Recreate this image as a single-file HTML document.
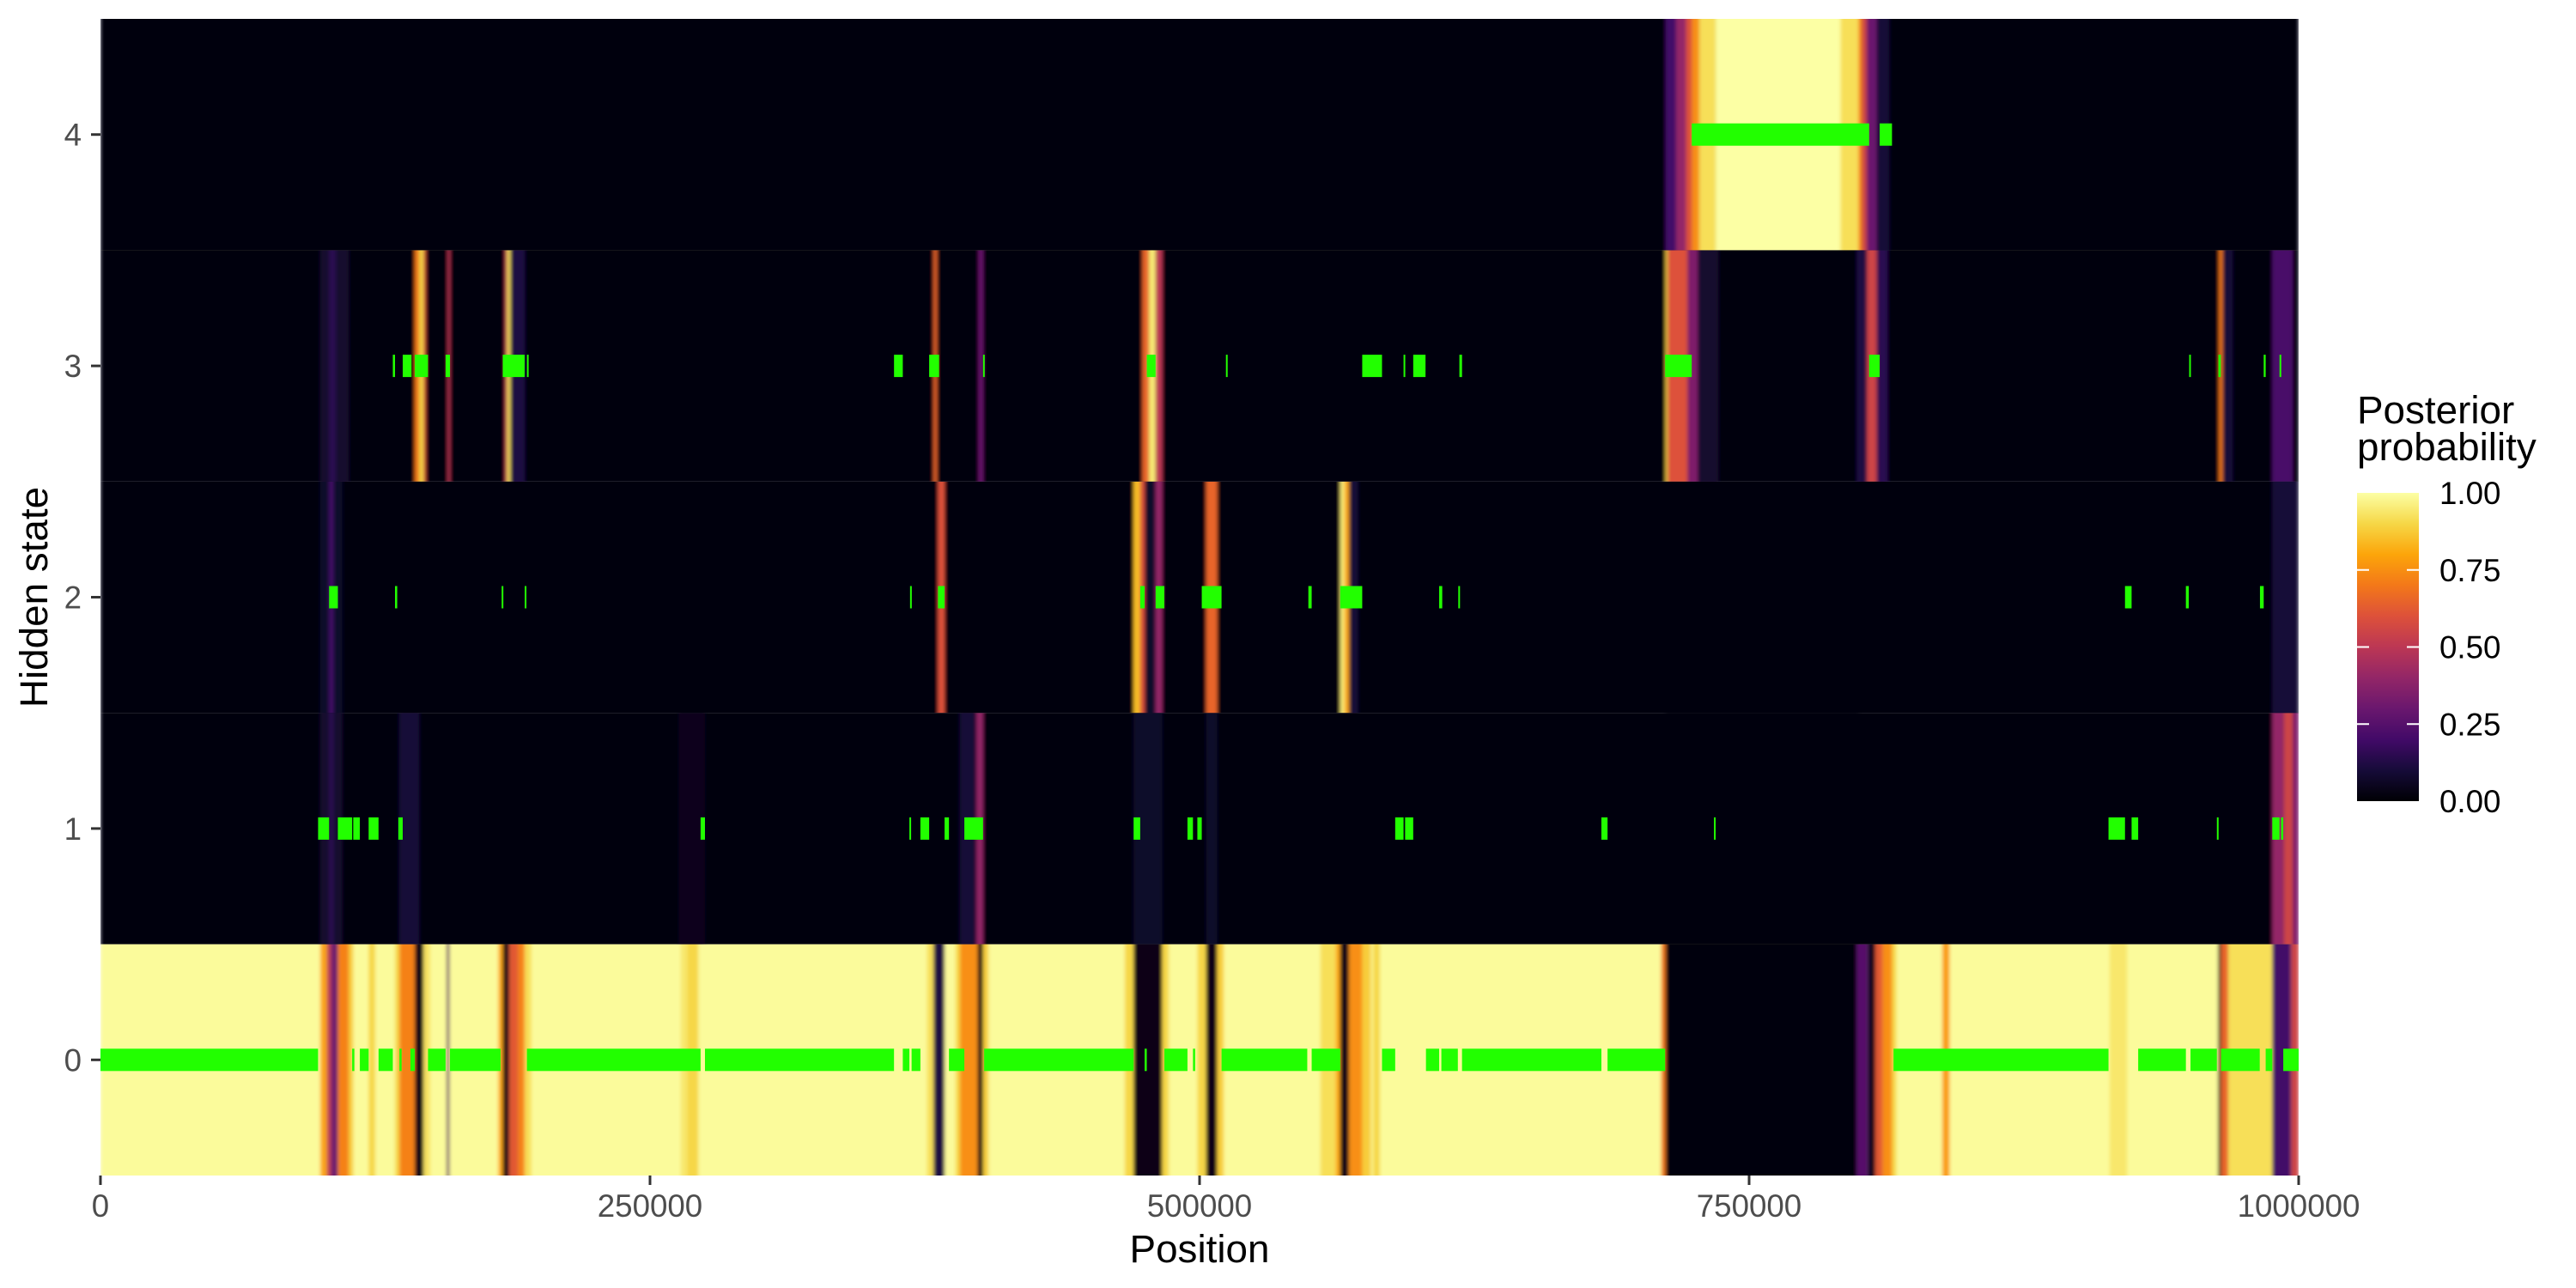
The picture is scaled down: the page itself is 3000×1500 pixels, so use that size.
<!DOCTYPE html>
<html><head><meta charset="utf-8"><style>
html,body{margin:0;padding:0;background:#fff;}
svg{display:block;font-family:"Liberation Sans",Arial,sans-serif;}
</style></head><body>
<svg id="chart" width="3000" height="1500" viewBox="0 0 3000 1500" xmlns="http://www.w3.org/2000/svg">
<defs>
<filter id="hblur" x="0" y="0" width="1" height="1" filterUnits="objectBoundingBox"><feGaussianBlur stdDeviation="2 0" edgeMode="duplicate"/></filter>
</defs>
<rect x="0" y="0" width="3000" height="1500" fill="#ffffff"/>
<g id="heat"></g>
<g id="path"></g>
<g id="axes"></g>
<g id="legend"></g>
</svg>
<script>
// ---- data (positions in kb, probabilities 0..1) ----
const states = [0, 1, 2, 3, 4];
const baseProb = [0.99, 0.02, 0.02, 0.02, 0.006];
const xTicks = [0, 250000, 500000, 750000, 1000000];
const xTickLabels = ["0", "250000", "500000", "750000", "1000000"];
const legendTicks = [0, 0.25, 0.5, 0.75, 1];
const legendLabels = ["0.00", "0.25", "0.50", "0.75", "1.00"];
const probState0 = [[100,103,0.8],[103,105,0.5],[105,108,0.3],[108,113,0.72],[113,115,0.88],[122,125,0.9],[134,136,0.9],[136,143,0.72],[143,147,0.03],[147,150,0.93],[157.5,158.7,0.25],[181,183,0.8],[183,186,0.03],[186,190,0.62],[190,193,0.72],[193,196,0.92],[264,267,0.94],[267,272,0.9],[376,379,0.92],[379,384,0.12],[389,391,0.9],[391,399,0.75],[399,401.5,0.03],[401.5,404,0.88],[466,470,0.9],[470,483,0.03],[483,486,0.9],[499,503,0.9],[503,508,0.03],[508,511,0.88],[555,562,0.92],[562,564,0.8],[564,568,0.03],[568,574,0.75],[574,578,0.88],[579,582,0.9],[710,712,0.7],[712,799,0.02],[799,804,0.25],[804,807.4,0.05],[807.4,810.7,0.62],[810.7,815,0.75],[815,817,0.9],[837.9,841.2,0.78],[914,922,0.94],[963.4,964.7,0.03],[964.7,968,0.65],[968,988,0.92],[988,996.6,0.2],[996.6,1000,0.55]];
const probState1 = [[100,110,0.08],[104,106,0.15],[136,145,0.1],[263,275,0.05],[391,398,0.1],[398.5,401.5,0.4],[470,483,0.07],[503,508,0.07],[712,800,0.015],[988,993.3,0.4],[993.3,997.3,0.55],[997.3,1000,0.35]];
const probState2 = [[100,110,0.07],[104,106,0.2],[381,384,0.6],[470,473,0.85],[473,475,0.6],[475,480,0.07],[480,483,0.4],[503,508,0.65],[564,566,0.95],[566,568,0.8],[568,572,0.1],[988,1000,0.1]];
const probState3 = [[100,113,0.08],[104,107,0.15],[143,145,0.7],[145,147,0.9],[147,148,0.6],[158,159,0.5],[184,185,0.5],[185,186.5,0.92],[186.5,193,0.12],[379,380.5,0.65],[399.5,401.5,0.3],[474,477,0.65],[477,480,0.95],[480,483,0.5],[712,713,0.9],[713,722,0.6],[722,726.6,0.35],[726.6,736,0.08],[799,803.6,0.12],[803.6,808,0.55],[808,813,0.15],[963.8,965.4,0.7],[965.4,970,0.1],[988,997.3,0.22]];
const probState4 = [[712,716.8,0.2],[716.8,721.3,0.4],[721.3,724,0.6],[724,727.3,0.75],[727.3,734.8,0.92],[734.8,791.6,1.0],[791.6,799.8,0.92],[799.8,801.5,0.72],[801.5,803.6,0.55],[803.6,808,0.3],[808,813.7,0.1]];
const pathState0 = [[0,99],[114.5,115.5],[118,122],[126.5,133],[136,137],[141,143],[149,157],[159,182],[194,273],[275,361],[365,368],[369,373],[386,393],[402,470],[475,476],[484,494.5],[497,498],[510,549],[551,564],[583,589],[603,609],[610,617.5],[619.4,682.8],[685.6,711.8],[815.7,913.5],[927,948.7],[950.8,962.8],[964.7,982.3],[985,988],[993,1000]];
const pathState1 = [[99,104],[108,114.5],[115,118],[122,126.5],[135.5,136],[136.3,137.5],[273,275],[368,368.5],[373,377],[384,386],[393,401.5],[470,473],[494.5,497],[499,501],[589,592.8],[593.5,597.2],[682.8,685.6],[734,734.3],[913.5,921],[924,927],[962.8,963.4],[988,991.3],[992,993]];
const pathState2 = [[104,108],[134,135],[182.5,183],[193,193.5],[368.3,368.8],[381,384],[473,475],[480,484],[501,510],[549.5,551],[564,574],[609,610.4],[617.7,618.2],[921,924],[948.7,950],[982.4,984.1]];
const pathState3 = [[133,134],[137.5,141.5],[143,149],[157,159],[183,193],[194,194.5],[361,365],[377,381.5],[401.5,402],[476,480],[512,512.3],[574,583],[592.8,593.5],[597.2,602.8],[618.2,619.4],[711.8,723.9],[804.6,809.4],[950.2,950.8],[963.5,964.6],[984.1,985],[991.3,992]];
const pathState4 = [[723.9,804.6],[809.4,815]];

const probs = [probState0, probState1, probState2, probState3, probState4];
const paths = [pathState0, pathState1, pathState2, pathState3, pathState4];

// ---- scales ----
const X0 = 117, X1 = 2677, Y0 = 22, Y1 = 1369;
const rowH = (Y1 - Y0) / 5;
function xs(kb) { return X0 + kb / 1000 * (X1 - X0); }
function xsBp(bp) { return X0 + bp / 1e6 * (X1 - X0); }
function rowTop(s) { return Y0 + (4 - s) * rowH; }
function rowMid(s) { return rowTop(s) + rowH / 2; }
const infernoStops = ["#000004","#160b39","#420a68","#6a176e","#932667","#bc3754","#dd513a","#f37819","#fca50a","#f6d746","#fcffa4"];
function hex2rgb(h){return [parseInt(h.substr(1,2),16),parseInt(h.substr(3,2),16),parseInt(h.substr(5,2),16)];}
function inferno(v) {
  v = Math.max(0, Math.min(1, v));
  const t = v * 10, i = Math.min(9, Math.floor(t)), f = t - i;
  const a = hex2rgb(infernoStops[i]), b = hex2rgb(infernoStops[i + 1]);
  return "rgb(" + a.map((c, k) => Math.round(c + (b[k] - c) * f)).join(",") + ")";
}
const NS = "http://www.w3.org/2000/svg";
function mk(tag, attrs, parent) {
  const el = document.createElementNS(NS, tag);
  for (const k in attrs) el.setAttribute(k, attrs[k]);
  parent.appendChild(el);
  return el;
}

// ---- heatmap ----
const heat = document.getElementById('heat');
states.forEach(s => {
  const rowG = mk('g', {filter: "url(#hblur)"}, heat);
  
  
  const bg = mk('rect', {x: X0, y: rowTop(s), width: X1 - X0, height: rowH, fill: inferno(baseProb[s])}, rowG);
  
  
  probs[s].forEach(d => {
    const r = mk('rect', {x: xs(d[0]), y: rowTop(s), width: Math.max(1, xs(d[1]) - xs(d[0])), height: rowH, fill: inferno(d[2])}, rowG);
    
    
  });
});

// ---- state path marks ----
const pathG = document.getElementById('path');
states.forEach(s => {
  paths[s].forEach(d => {
    const r = mk('rect', {x: xs(d[0]), y: rowMid(s) - 13, width: Math.max(2, xs(d[1]) - xs(d[0])), height: 26, fill: "#22ff00"}, pathG);
    
    
  });
});

// ---- axes ----
const axes = document.getElementById('axes');
states.forEach(s => {
  const t = mk('line', {x1: 106, x2: X0, y1: rowMid(s), y2: rowMid(s), stroke: "#333", "stroke-width": 3}, axes);
  
  
  const l = mk('text', {x: 95, y: rowMid(s) + 13, "text-anchor": "end", "font-size": 36.7, fill: "#4d4d4d"}, axes);
  l.textContent = String(s);
  
  
});
xTicks.forEach((v, i) => {
  const t = mk('line', {x1: xsBp(v), x2: xsBp(v), y1: Y1, y2: Y1 + 11, stroke: "#333", "stroke-width": 3}, axes);
  
  
  const l = mk('text', {x: xsBp(v), y: 1417, "text-anchor": "middle", "font-size": 36.7, fill: "#4d4d4d"}, axes);
  l.textContent = xTickLabels[i];
  
  
});
const xt = mk('text', {x: (X0 + X1) / 2, y: 1470, "text-anchor": "middle", "font-size": 45.8, fill: "#000"}, axes);
xt.textContent = "Position";


const yt = mk('text', {x: 0, y: 0, "text-anchor": "middle", "font-size": 45.8, fill: "#000", transform: "translate(55," + ((Y0 + Y1) / 2) + ") rotate(-90)"}, axes);
yt.textContent = "Hidden state";



// ---- legend ----
const lg = document.getElementById('legend');
const LX0 = 2745, LX1 = 2817, LY0 = 574, LY1 = 933;
const defs = mk('defs', {}, lg);
const grad = mk('linearGradient', {id: "cbar", x1: 0, y1: 1, x2: 0, y2: 0}, defs);
infernoStops.forEach((c, i) => mk('stop', {offset: (i / 10), "stop-color": c}, grad));
const t1 = mk('text', {x: LX0, y: 493, "font-size": 45.8, fill: "#000"}, lg);
t1.textContent = "Posterior";


const t2 = mk('text', {x: LX0, y: 536, "font-size": 45.8, fill: "#000"}, lg);
t2.textContent = "probability";


const bar = mk('rect', {x: LX0, y: LY0, width: LX1 - LX0, height: LY1 - LY0, fill: "url(#cbar)"}, lg);


function ly(v) { return LY1 - v * (LY1 - LY0); }
legendTicks.forEach((v, i) => {
  if (v > 0 && v < 1) {
    const a = mk('line', {x1: LX0, x2: LX0 + 14, y1: ly(v), y2: ly(v), stroke: "#fff", "stroke-width": 2}, lg);
    
    
    const b = mk('line', {x1: LX1 - 14, x2: LX1, y1: ly(v), y2: ly(v), stroke: "#fff", "stroke-width": 2}, lg);
    
    
  }
  const l = mk('text', {x: 2841, y: ly(v) + 13, "font-size": 36.7, fill: "#000"}, lg);
  l.textContent = legendLabels[i];
  
  
});
</script>
</body></html>
